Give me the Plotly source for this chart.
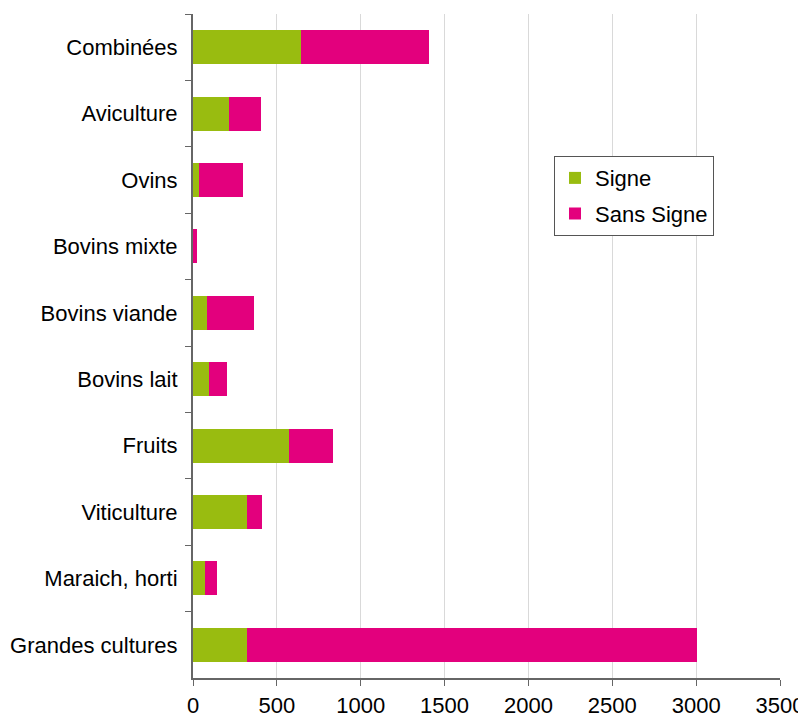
import plotly.graph_objects as go

categories = ["Combinées", "Aviculture", "Ovins", "Bovins mixte", "Bovins viande",
              "Bovins lait", "Fruits", "Viticulture", "Maraich, horti", "Grandes cultures"]
signe = [643, 214, 36, 0, 83, 95, 571, 321, 71, 322]
sans_signe = [762, 191, 262, 25, 280, 107, 262, 90, 72, 2681]
x_ticks = [0, 500, 1000, 1500, 2000, 2500, 3000, 3500]

fig = go.Figure()
fig.add_trace(go.Bar(y=categories, x=signe, name="Signe", orientation="h", legendgroup="a",
                     marker=dict(color="#99BC10", line=dict(width=0))))
fig.add_trace(go.Bar(y=categories, x=sans_signe, name="Sans Signe", orientation="h", legendgroup="b",
                     marker=dict(color="#E3007D", line=dict(width=0))))

fig.update_layout(
    barmode="stack",
    bargap=0.49,
    width=806, height=720,
    margin=dict(l=185, r=34, t=6, b=50, autoexpand=False),
    plot_bgcolor="white", paper_bgcolor="white",
    font=dict(family="Liberation Sans, Arial, sans-serif", size=22, color="black"),
    legend=dict(x=0.615, y=0.786, xanchor="left", yanchor="top",
                bordercolor="#555555", borderwidth=1, bgcolor="white",
                font=dict(size=22), traceorder="grouped", itemwidth=30,
                tracegroupgap=4),
    xaxis=dict(range=[0, 3500], tickvals=x_ticks, showgrid=True, gridcolor="#D9D9D9",
               gridwidth=1, zeroline=False, showline=True, linecolor="#666666", linewidth=2,
               ticks="outside", ticklen=6, tickcolor="#666666", ticklabelstandoff=1,
               automargin=False),
    yaxis=dict(autorange="reversed", categoryorder="array", categoryarray=categories,
               showline=True, linecolor="#666666", linewidth=2, ticks="outside",
               ticklen=6, tickcolor="#666666", tickson="boundaries", showgrid=False,
               ticklabelstandoff=9, automargin=False),
)
fig.write_html("out.html")
